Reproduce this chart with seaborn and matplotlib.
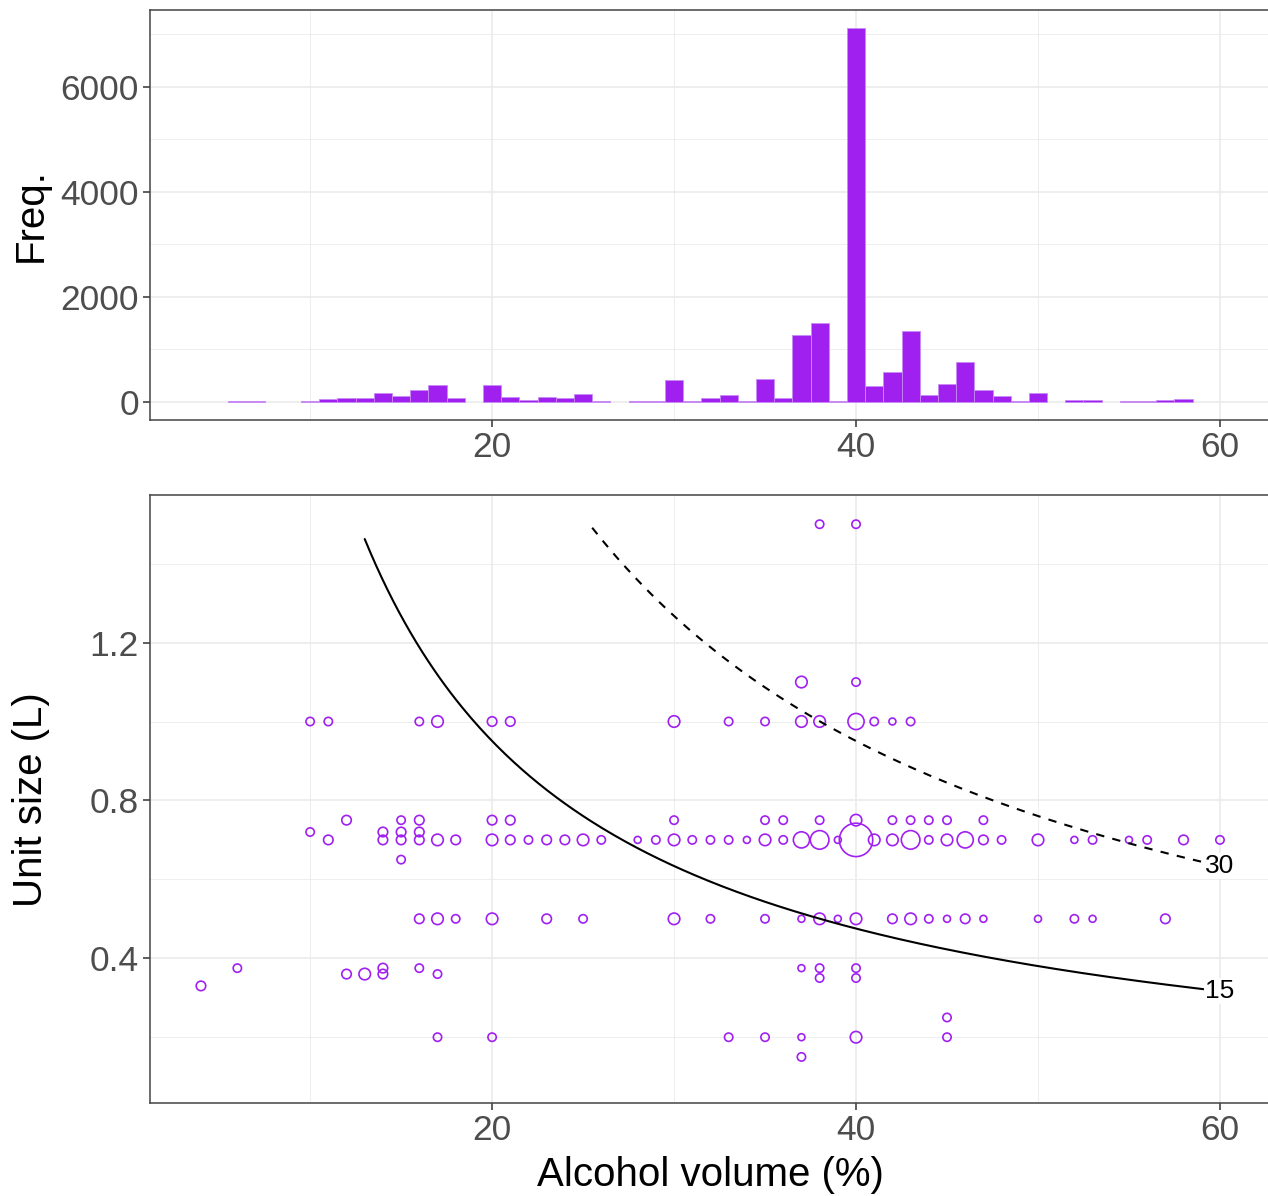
import numpy as np
import pandas as pd
import matplotlib
matplotlib.use("Agg")
import matplotlib.pyplot as plt
from matplotlib.ticker import FixedLocator
import seaborn as sns

# ---------------- data ----------------
# Histogram: alcohol volume (%) bin centres (bin width 1) and frequencies
hist_abv = [6, 7, 10, 11, 12, 13, 14, 15, 16, 17, 18, 20, 21, 22, 23, 24, 25, 26,
            28, 29, 30, 31, 32, 33, 34, 35, 36, 37, 38, 39, 40, 41, 42, 43, 44,
            45, 46, 47, 48, 49, 50, 52, 53, 55, 56, 57, 58]
hist_freq = [15, 15, 20, 50, 64, 64, 172, 115, 217, 318, 76, 318, 95, 32, 83, 64, 146, 13,
             10, 10, 414, 20, 65, 133, 19, 431, 63, 1262, 1497, 19, 7115, 298, 564, 1338, 127,
             342, 761, 222, 101, 19, 159, 32, 25, 13, 13, 32, 51]

# Scatter: alcohol volume (%), unit size (L), number of products
pt_abv = [38, 40,
          37, 40,
          10, 11, 16, 17, 20, 21, 30, 33, 35, 37, 38, 40, 41, 42, 43,
          12, 15, 16, 20, 21, 30, 35, 36, 38, 40, 42, 43, 44, 45, 47,
          10, 14, 15, 16,
          11, 14, 15, 16, 17, 18, 20, 21, 22, 23, 24, 25, 26, 28, 29, 30, 31, 32, 33, 34,
          35, 36, 37, 38, 39, 40, 41, 42, 43, 44, 45, 46, 47, 48, 50, 52, 53, 55, 56, 58, 60,
          15,
          16, 17, 18, 20, 23, 25, 30, 32, 35, 37, 38, 39, 40, 42, 43, 44, 45, 46, 47, 50, 52, 53, 57,
          6, 14, 16, 37, 38, 40,
          12, 13, 14, 17,
          38, 40,
          4,
          45,
          17, 20, 33, 35, 37, 40, 45,
          37]
pt_size = [1.5, 1.5,
           1.1, 1.1,
           1.0, 1.0, 1.0, 1.0, 1.0, 1.0, 1.0, 1.0, 1.0, 1.0, 1.0, 1.0, 1.0, 1.0, 1.0,
           0.75, 0.75, 0.75, 0.75, 0.75, 0.75, 0.75, 0.75, 0.75, 0.75, 0.75, 0.75, 0.75, 0.75, 0.75,
           0.72, 0.72, 0.72, 0.72,
           0.7, 0.7, 0.7, 0.7, 0.7, 0.7, 0.7, 0.7, 0.7, 0.7, 0.7, 0.7, 0.7, 0.7, 0.7, 0.7, 0.7, 0.7, 0.7, 0.7,
           0.7, 0.7, 0.7, 0.7, 0.7, 0.7, 0.7, 0.7, 0.7, 0.7, 0.7, 0.7, 0.7, 0.7, 0.7, 0.7, 0.7, 0.7, 0.7, 0.7, 0.7,
           0.65,
           0.5, 0.5, 0.5, 0.5, 0.5, 0.5, 0.5, 0.5, 0.5, 0.5, 0.5, 0.5, 0.5, 0.5, 0.5, 0.5, 0.5, 0.5, 0.5, 0.5, 0.5, 0.5, 0.5,
           0.375, 0.375, 0.375, 0.375, 0.375, 0.375,
           0.36, 0.36, 0.36, 0.36,
           0.35, 0.35,
           0.33,
           0.25,
           0.2, 0.2, 0.2, 0.2, 0.2, 0.2, 0.2,
           0.15]
pt_n = [2, 2,
        5, 2,
        2, 2, 2, 5, 3, 3, 5, 2, 2, 5, 5, 11, 2, 1, 2,
        3, 2, 3, 3, 3, 2, 2, 2, 2, 5, 2, 2, 2, 2, 2,
        2, 3, 3, 3,
        3, 3, 3, 3, 5, 3, 5, 3, 2, 3, 3, 5, 2, 1, 2, 5, 2, 2, 2, 1,
        5, 2, 11, 15, 1, 51, 5, 5, 15, 2, 5, 11, 3, 2, 5, 1, 2, 1, 2, 3, 2,
        2,
        3, 5, 2, 5, 3, 2, 5, 2, 2, 1, 5, 1, 5, 3, 5, 2, 1, 3, 1, 1, 2, 1, 3,
        2, 3, 2, 1, 2, 2,
        3, 5, 3, 2,
        2, 2,
        3,
        2,
        2, 2, 2, 2, 1, 5, 2,
        2]

# Reference curves: number of units (10 g alcohol, density 0.789 g/ml)
unit_levels = [15, 30]
unit_labels = ["15", "30"]
curve_start_abv = [13.0, 25.5]
curve_end_abv = 60.0
GRAMS_PER_UNIT = 10.0
ETHANOL_DENSITY = 0.789

# ---------------- style ----------------
PURPLE = "#A020F0"
GRID = "#EBEBEB"
BORDER = "#444444"
TICKTXT = "#4D4D4D"
TICK_FS = 25.5
TITLE_FS = 29

sns.set_theme(style="white")
plt.rcParams["font.family"] = ["Liberation Sans", "DejaVu Sans"]

W, H = 1268, 1196
fig = plt.figure(figsize=(W / 100, H / 100), dpi=100)

def px_axes(left, top, right, bottom):
    return fig.add_axes([left / W, 1 - bottom / H, (right - left) / W, (bottom - top) / H])

ax1 = px_axes(150, 10, 1270, 419.7)
ax2 = px_axes(150, 495, 1270, 1103.3)

XLIM = (1.2, 62.75)

def style_axes(ax, major_x, minor_x, major_y, minor_y):
    ax.set_axisbelow(True)
    ax.xaxis.set_major_locator(FixedLocator(major_x))
    ax.xaxis.set_minor_locator(FixedLocator(minor_x))
    ax.yaxis.set_major_locator(FixedLocator(major_y))
    ax.yaxis.set_minor_locator(FixedLocator(minor_y))
    ax.grid(True, which="major", color=GRID, linewidth=1.2)
    ax.grid(True, which="minor", color=GRID, linewidth=0.6)
    for s in ax.spines.values():
        s.set_visible(True)
        s.set_color(BORDER)
        s.set_linewidth(1.1)
    ax.tick_params(axis="both", which="major", direction="out", length=5, width=1.1,
                   color="#333333", labelsize=TICK_FS, labelcolor=TICKTXT, pad=3.0,
                   bottom=True, left=True)
    ax.tick_params(axis="both", which="minor", length=0)

# ---------------- top: histogram ----------------
hist_df = pd.DataFrame({"abv": hist_abv, "freq": hist_freq})
sns.histplot(data=hist_df, x="abv", weights="freq", binwidth=1, binrange=(5.5, 58.5),
             ax=ax1, color=PURPLE, alpha=1.0, edgecolor="#C98BF5", linewidth=0.6)
for p in ax1.patches:
    if p.get_height() == 0:
        p.set_visible(False)
ax1.set_xlim(*XLIM)
ax1.set_ylim(-343, 7461)
style_axes(ax1, [20, 40, 60], [10, 30, 50], [0, 2000, 4000, 6000], [1000, 3000, 5000, 7000])
ax1.set_xlabel("")
ax1.set_ylabel("Freq.", fontsize=TITLE_FS, color="black")
ax1.yaxis.set_label_coords(-0.0893, 0.5)

# ---------------- bottom: scatter + curves ----------------
pts = pd.DataFrame({"abv": pt_abv, "size": pt_size, "n": pt_n})
sns.scatterplot(data=pts, x="abv", y="size", size="n", sizes=(25, 577),
                size_norm=(1, 51), color=PURPLE, marker="o", linewidth=1.2,
                legend=False, ax=ax2)
coll = ax2.collections[-1]
coll.set_facecolor("none")
coll.set_edgecolor(PURPLE)
coll.set_linewidth(1.2)

K = GRAMS_PER_UNIT / ETHANOL_DENSITY / 10.0  # L * % per unit
styles = ["-", (0, (4, 4))]
for units, lab, x0, ls in zip(unit_levels, unit_labels, curve_start_abv, styles):
    xs = np.linspace(x0, curve_end_abv, 300)
    cdf = pd.DataFrame({"abv": xs, "size": units * K / xs})
    sns.lineplot(data=cdf, x="abv", y="size", ax=ax2, color="black",
                 linewidth=1.5, sort=False)
    ax2.lines[-1].set_linestyle(ls)
    ax2.text(curve_end_abv, units * K / curve_end_abv, lab, ha="center", va="center",
             fontsize=19, color="black",
             bbox=dict(boxstyle="square,pad=0.05", facecolor="white", edgecolor="none"))

ax2.set_xlim(*XLIM)
ax2.set_ylim(0.0325, 1.574)
style_axes(ax2, [20, 40, 60], [10, 30, 50], [0.4, 0.8, 1.2], [0.2, 0.6, 1.0, 1.4])
ax2.set_xlabel("Alcohol volume (%)", fontsize=TITLE_FS, color="black")
ax2.set_ylabel("Unit size (L)", fontsize=TITLE_FS, color="black")
ax2.yaxis.set_label_coords(-0.0893, 0.5)
ax2.xaxis.set_label_coords(0.5, -0.086)

fig.savefig("out.png", dpi=100, facecolor="white")
